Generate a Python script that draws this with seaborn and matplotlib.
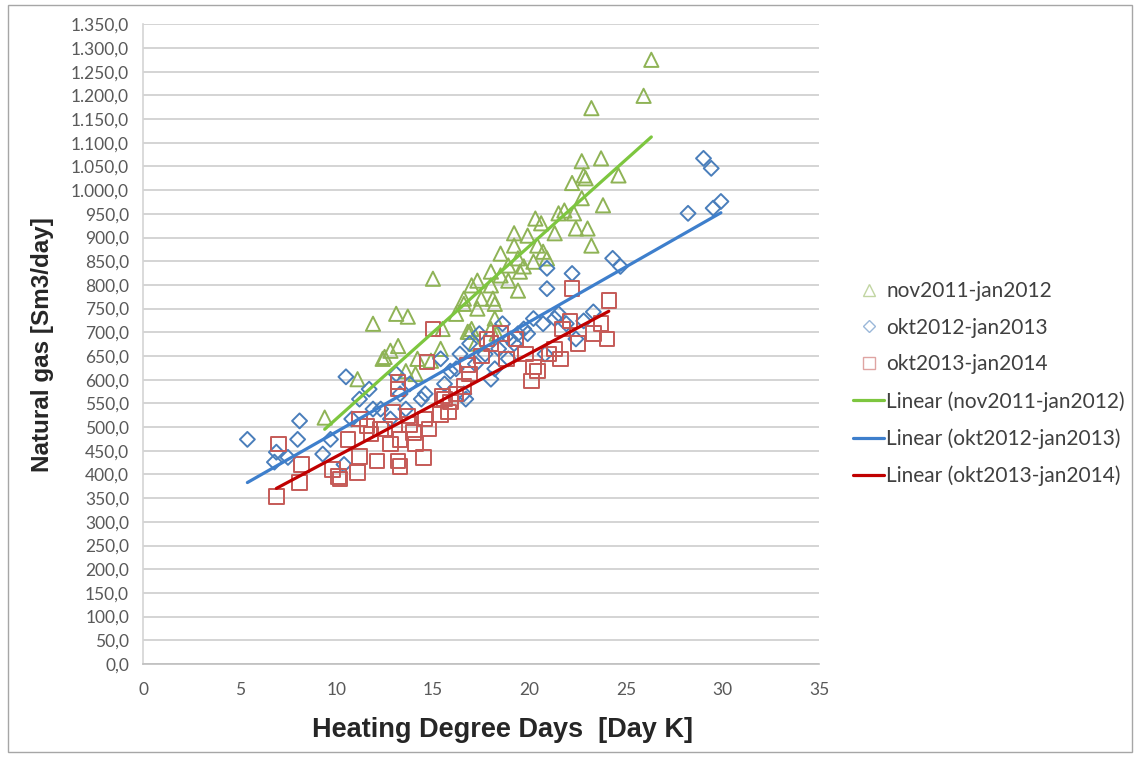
import matplotlib
matplotlib.use("Agg")
import matplotlib.pyplot as plt
import matplotlib.patches as mpatches
from matplotlib.ticker import FuncFormatter, MultipleLocator
import numpy as np
import pandas as pd
import seaborn as sns

# nov2011-jan2012 (triangles)
hdd_2011 = [9.4, 11.1, 11.9, 13.1, 13.7, 12.5, 12.8, 13.2, 13.6, 14.1, 14.2, 15.4, 15.5,
            16.9, 17.0, 17.2, 16.2, 16.6, 18.2, 18.3, 15.0, 12.4, 14.9, 16.8, 18.0,
            17.3, 18.2, 18.1, 17.5, 16.6, 17.0, 17.3, 18.0, 18.9, 19.4, 19.5, 18.0,
            18.5, 19.7, 18.9, 20.2, 20.9, 19.4, 18.5, 20.7, 19.2, 20.4, 19.9, 19.2,
            23.2, 21.3, 22.4, 23.0, 20.6, 20.3, 22.3, 21.5, 21.8, 22.7, 23.8, 22.2,
            22.9, 24.6, 22.8, 23.7, 22.7, 23.2, 25.9, 26.3]
gas_2011 = [520, 601, 718, 739, 733, 648, 661, 671, 618, 612, 644, 665, 707,
            701, 707, 676, 739, 760, 729, 697, 813, 644, 640, 701, 707,
            750, 760, 771, 771, 771, 799, 809, 799, 809, 788, 828, 828,
            820, 839, 841, 849, 856, 856, 866, 870, 883, 883, 904, 909,
            883, 909, 919, 919, 930, 940, 951, 951, 957, 983, 968, 1015,
            1025, 1031, 1031, 1067, 1061, 1173, 1199, 1275]

# okt2012-jan2013 (diamonds)
hdd_2012 = [5.4, 6.8, 6.9, 7.5, 8.0, 8.1, 9.3, 9.7, 10.4, 10.5, 10.8, 11.2, 11.7,
            11.9, 12.3, 12.8, 13.1, 13.3, 13.6, 13.8, 14.4, 14.6, 15.4, 15.6, 15.9,
            16.2, 16.4, 16.6, 16.7, 16.9, 17.2, 17.4, 17.7, 18.0, 18.2, 18.4, 18.6,
            18.9, 19.0, 19.2, 19.4, 19.7, 19.9, 20.2, 20.7, 20.8, 20.9, 20.9, 21.3,
            21.5, 21.9, 22.2, 22.4, 22.8, 23.3, 24.3, 24.7, 28.2, 29.0, 29.4, 29.5, 29.9]
gas_2012 = [474, 426, 447, 436, 474, 513, 443, 474, 421, 606, 517, 559, 580,
            538, 538, 517, 612, 570, 538, 591, 559, 570, 644, 591, 618,
            623, 654, 570, 559, 676, 633, 697, 654, 601, 623, 665, 718,
            644, 686, 676, 697, 707, 697, 729, 718, 654, 835, 792, 729,
            739, 718, 824, 686, 724, 743, 856, 839, 951, 1067, 1046, 962, 976]

# okt2013-jan2014 (squares)
hdd_2013 = [6.9, 7.0, 8.1, 8.2, 9.8, 10.1, 10.2, 10.6, 11.1, 11.2, 11.2, 11.6, 11.8,
            12.1, 12.3, 12.5, 12.8, 12.9, 13.2, 13.2, 13.2, 13.3, 13.3, 13.7, 13.8,
            14.0, 14.1, 14.5, 14.6, 14.7, 14.8, 15.0, 15.4, 15.5, 15.6, 15.8, 15.9,
            16.2, 16.6, 16.8, 16.9, 17.5, 17.8, 18.0, 18.5, 18.8, 19.3, 19.8, 20.1,
            20.2, 20.4, 21.0, 21.3, 21.6, 21.7, 22.1, 22.2, 22.5, 23.3, 23.7, 24.0, 24.1]
gas_2013 = [354, 464, 383, 421, 411, 396, 390, 474, 404, 438, 517, 502, 485,
            428, 496, 496, 464, 532, 428, 580, 595, 417, 474, 523, 506,
            489, 464, 436, 517, 637, 496, 707, 527, 566, 559, 532, 553,
            570, 585, 631, 612, 650, 686, 676, 697, 644, 686, 654, 597,
            627, 618, 654, 665, 644, 707, 724, 792, 676, 697, 718, 686, 767]

series = ["nov2011-jan2012", "okt2012-jan2013", "okt2013-jan2014"]
hdd = [hdd_2011, hdd_2012, hdd_2013]
gas = [gas_2011, gas_2012, gas_2013]
markers = ["^", "D", "s"]
marker_sizes = [105, 58, 110]
point_colors = ["#8FB356", "#4A7EBB", "#C55A57"]
line_colors = ["#7DC63F", "#3E7FCC", "#C00000"]

sns.set_style("white")
plt.rcParams["font.family"] = ["Lato", "DejaVu Sans"]

fig = plt.figure(figsize=(11.35, 7.58), dpi=100)
ax = fig.add_axes([0.126, 0.124, 0.596, 0.844])

handles_pts = []
handles_lines = []
for name, x, y, m, s, pc, lc in zip(series, hdd, gas, markers, marker_sizes,
                                     point_colors, line_colors):
    df = pd.DataFrame({"hdd": x, "gas": y})
    sns.scatterplot(data=df, x="hdd", y="gas", marker=m, s=s, ax=ax,
                    facecolor="none", edgecolor=pc, linewidth=1.4, zorder=3)
    sns.regplot(data=df, x="hdd", y="gas", scatter=False, ci=None, ax=ax,
                line_kws={"color": lc, "linewidth": 2.3, "zorder": 4})
    handles_pts.append(plt.Line2D([], [], linestyle="none", marker=m,
                                  markersize=8 if m != "D" else 6.5,
                                  markerfacecolor="none", markeredgecolor=pc,
                                  markeredgewidth=1.0, alpha=0.55))
    handles_lines.append(plt.Line2D([], [], color=lc, linewidth=2.3))

ax.set_xlim(0, 35)
ax.set_ylim(0, 1350)
ax.xaxis.set_major_locator(MultipleLocator(5))
ax.yaxis.set_major_locator(MultipleLocator(50))


def euro(v, pos):
    s = f"{v:,.1f}"
    return s.replace(",", "X").replace(".", ",").replace("X", ".")


ax.yaxis.set_major_formatter(FuncFormatter(euro))
ax.grid(axis="y", color="#D4D4D4", linewidth=1.4)
ax.grid(axis="x", visible=False)
ax.set_axisbelow(True)
for side in ["top", "right"]:
    ax.spines[side].set_visible(False)
ax.spines["left"].set_color("#D4D4D4")
ax.spines["bottom"].set_color("#BFBFBF")
ax.spines["left"].set_linewidth(1.2)
ax.spines["bottom"].set_linewidth(1.2)
ax.tick_params(axis="y", length=6, width=1.4, color="#D4D4D4",
               labelsize=12.5, labelcolor="#595959", pad=4)
ax.tick_params(axis="x", length=5, width=1.2, color="#BFBFBF",
               labelsize=12.5, labelcolor="#595959", pad=8)

ax.set_xlabel("Heating Degree Days  [Day K]", fontsize=19.5, fontweight="bold",
              family=["Liberation Sans Narrow", "Liberation Sans"])
ax.xaxis.set_label_coords(0.532, -0.083)
ax.set_ylabel("Natural gas [Sm3/day]", fontsize=17.5, fontweight="bold",
              family=["Liberation Sans Narrow", "Liberation Sans"], labelpad=12)

fig.legend(handles_pts + handles_lines,
           series + [f"Linear ({n})" for n in series],
           loc="upper left", bbox_to_anchor=(0.735, 0.654), frameon=False,
           fontsize=15, labelspacing=0.8, handlelength=1.5, handletextpad=0.1,
           labelcolor="#404040")

fig.patches.append(mpatches.Rectangle((0.007, 0.008), 0.99, 0.985,
                                      transform=fig.transFigure, fill=False,
                                      edgecolor="#A6A6A6", linewidth=1.0))

fig.savefig("out.png", dpi=100)
